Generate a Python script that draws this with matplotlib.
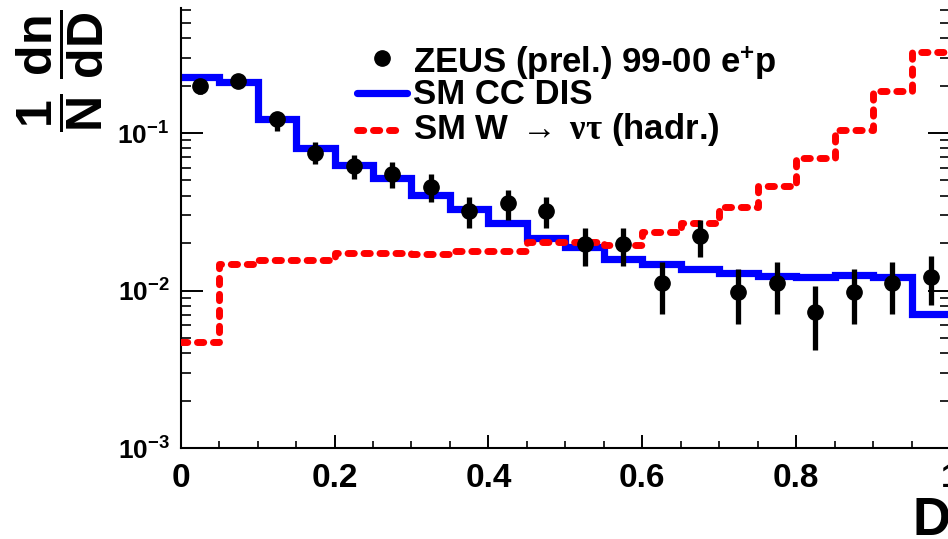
import numpy as np
import matplotlib
matplotlib.use("Agg")
import matplotlib.pyplot as plt
from matplotlib.lines import Line2D
from matplotlib.ticker import LogLocator, NullFormatter, FixedLocator

plt.rcParams['font.family'] = ['Liberation Sans', 'DejaVu Sans']
plt.rcParams['font.weight'] = 'bold'
plt.rcParams['mathtext.fontset'] = 'custom'
plt.rcParams['mathtext.rm'] = 'Liberation Sans:bold'
plt.rcParams['mathtext.bf'] = 'Liberation Sans:bold'
plt.rcParams['mathtext.it'] = 'Liberation Serif'
plt.rcParams['mathtext.sf'] = 'Liberation Sans:bold'

# ---- data ----
bin_edges = [0.0, 0.05, 0.1, 0.15, 0.2, 0.25, 0.3, 0.35, 0.4, 0.45, 0.5,
             0.55, 0.6, 0.65, 0.7, 0.75, 0.8, 0.85, 0.9, 0.95, 1.0]
bin_centers = [0.025, 0.075, 0.125, 0.175, 0.225, 0.275, 0.325, 0.375, 0.425, 0.475,
               0.525, 0.575, 0.625, 0.675, 0.725, 0.775, 0.825, 0.875, 0.925, 0.975]

sm_cc_dis = [0.227, 0.211, 0.123, 0.0803, 0.0626, 0.0518, 0.0404, 0.0329, 0.0268, 0.0215,
             0.0189, 0.0158, 0.0147, 0.0137, 0.0129, 0.0124, 0.0122, 0.0125, 0.0122, 0.0071]
sm_w_nutau = [0.0047, 0.0147, 0.0156, 0.0156, 0.0173, 0.0173, 0.0171, 0.0178, 0.0178, 0.0203,
              0.0203, 0.0195, 0.0235, 0.0268, 0.0339, 0.0461, 0.0694, 0.1045, 0.185, 0.327]

zeus_y = [0.199, 0.214, 0.123, 0.0746, 0.0617, 0.0549, 0.0454, 0.0320, 0.0359, 0.0320,
          0.0197, 0.0197, 0.0112, 0.0222, 0.0098, 0.0112, 0.0073, 0.0098, 0.0112, 0.0122]
zeus_hi = [0.220, 0.225, 0.136, 0.0877, 0.0725, 0.0655, 0.0550, 0.0392, 0.0435, 0.0392,
           0.0249, 0.0249, 0.0152, 0.0280, 0.0137, 0.0152, 0.0107, 0.0137, 0.0152, 0.0166]
zeus_lo = [0.177, 0.200, 0.103, 0.0636, 0.0510, 0.0448, 0.0365, 0.0249, 0.0280, 0.0249,
           0.0143, 0.0143, 0.0071, 0.0163, 0.0061, 0.0071, 0.0042, 0.0061, 0.0071, 0.0081]

xticks = [0, 0.2, 0.4, 0.6, 0.8, 1]
xticklabels = ['0', '0.2', '0.4', '0.6', '0.8', '1']
yticks = [1e-3, 1e-2, 1e-1]
yticklabels = [r'$\mathregular{10^{-3}}$', r'$\mathregular{10^{-2}}$', r'$\mathregular{10^{-1}}$']

legend_labels = [r'ZEUS (prel.) 99-00 e$^{+}$p', 'SM CC DIS',
                 r'SM W$\;\rightarrow\;\nu\tau$ (hadr.)']

# ---- figure ----
W, H = 948, 539
fig = plt.figure(figsize=(W / 100, H / 100), dpi=100)
ax = fig.add_axes([180.7 / W, (H - 448) / H, (950.0 - 180.7) / W, (448 - 8) / H])

blue_vals = sm_cc_dis + [sm_cc_dis[-1]]
red_vals = sm_w_nutau + [sm_w_nutau[-1]]
ax.step(bin_edges, blue_vals, where='post', color='#0000ff', lw=5.2, solid_joinstyle='miter', zorder=2)
ax.step(bin_edges, red_vals, where='post', color='#ff0000', lw=5.0,
        dashes=(0.9, 1.4), dash_capstyle='round', zorder=3)

y = np.array(zeus_y)
yerr = [y - np.array(zeus_lo), np.array(zeus_hi) - y]
ax.errorbar(bin_centers, zeus_y, yerr=yerr, fmt='o', color='black', ms=11,
            elinewidth=3.8, capsize=0, zorder=4)

ax.set_xlim(0, 1)
ax.set_yscale('log')
ax.set_ylim(1e-3, 0.622)

ax.spines['top'].set_visible(False)
for s in ['left', 'bottom', 'right']:
    ax.spines[s].set_linewidth(1.5)

ax.xaxis.set_major_locator(FixedLocator(xticks))
ax.set_xticklabels(xticklabels, fontsize=24, fontweight='bold')
ax.xaxis.set_minor_locator(FixedLocator([0.05, 0.1, 0.15, 0.25, 0.3, 0.35, 0.45, 0.5, 0.55,
                                         0.65, 0.7, 0.75, 0.85, 0.9, 0.95]))
ax.set_yticks(yticks)
ax.set_yticklabels(yticklabels, fontsize=19)
ax.yaxis.set_minor_locator(LogLocator(base=10, subs=[2, 3, 4, 5, 6, 7, 8, 9]))
ax.yaxis.set_minor_formatter(NullFormatter())

ax.tick_params(axis='x', which='major', direction='in', length=9.5, width=1.4, pad=11, top=False)
ax.tick_params(axis='x', which='minor', direction='in', length=5, width=1.2, top=False)
ax.tick_params(axis='y', which='major', direction='in', length=16, width=1.4, pad=8, right=True)
ax.tick_params(axis='y', which='minor', direction='in', length=7.5, width=1.2, right=True)

# ---- legend (manual) ----
def fx(px):
    return px / W

def fy(py):
    return 1 - py / H

rows_base = [73, 104, 139]
rows_mid = [58, 93, 130]
fig.add_artist(Line2D([fx(382)], [fy(rows_mid[0])], marker='o', ms=11, color='black', ls='none'))
fig.add_artist(Line2D([fx(357), fx(407)], [fy(rows_mid[1])] * 2, color='#0000ff', lw=5.2,
                      solid_capstyle='round'))
fig.add_artist(Line2D([fx(357), fx(402)], [fy(rows_mid[2])] * 2, color='#ff0000', lw=5.0,
                      dashes=(0.9, 1.4), dash_capstyle='round'))
for lab, yb in zip(legend_labels, rows_base):
    fig.text(fx(413), fy(yb), lab, fontsize=25, fontweight='bold', ha='left', va='baseline')

# ---- axis titles ----
fig.text(fx(60), fy(71), r'$\dfrac{\mathbf{1}}{\mathbf{N}}\;\dfrac{\mathbf{dn}}{\mathbf{dD}}$',
         rotation=90, fontsize=36, ha='center', va='center')
fig.text(fx(950), fy(535), 'D', fontsize=38, fontweight='bold', ha='right', va='baseline')

fig.savefig('out.png', dpi=100)
